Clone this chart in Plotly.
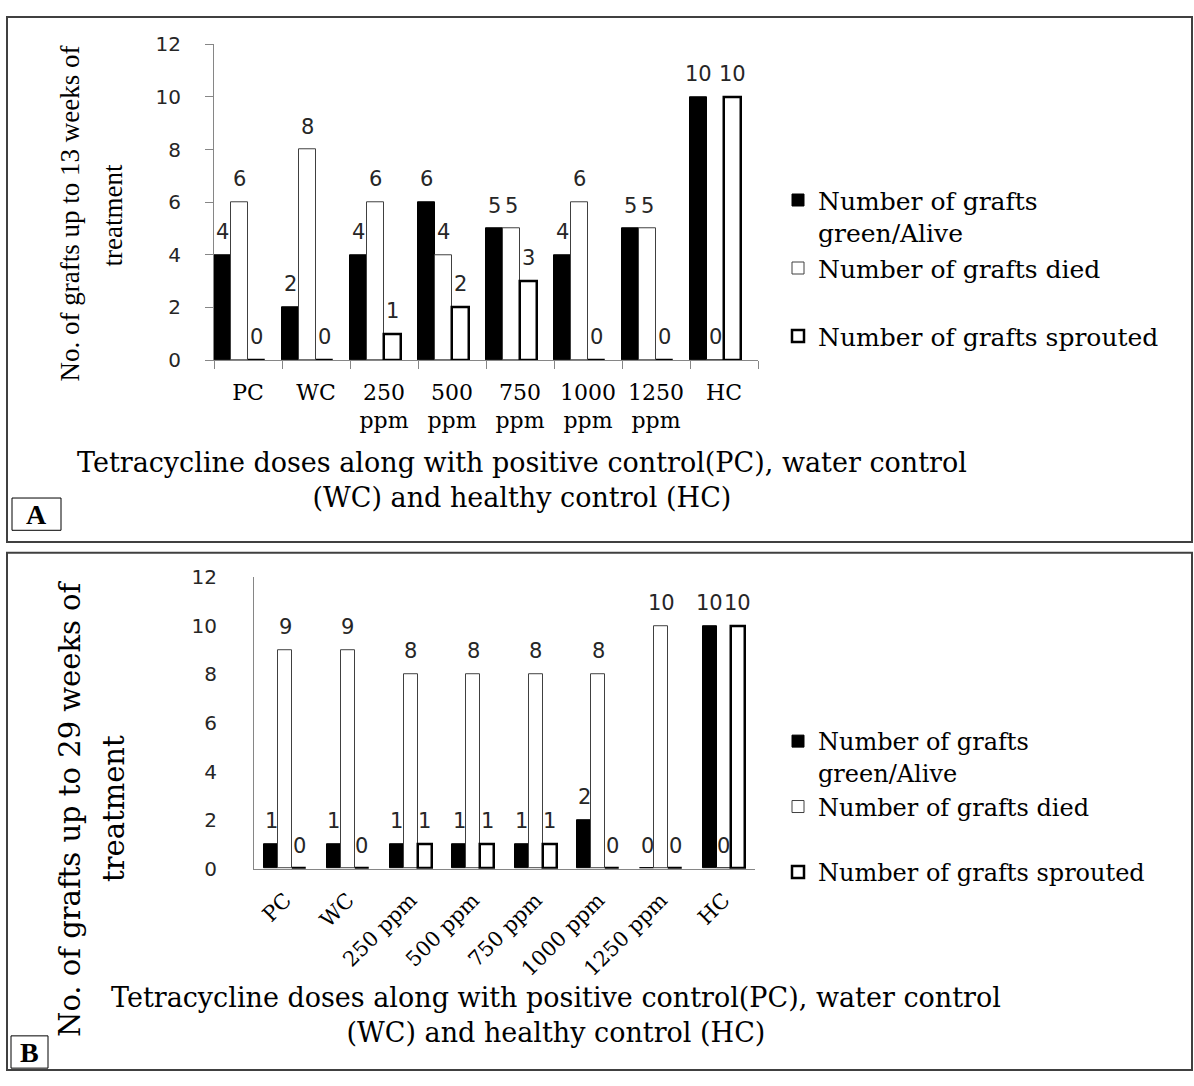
import plotly.graph_objects as go

W, H = 1194, 1086

# ---------------- data ----------------
categories_a = ["PC", "WC", "250<br>ppm", "500<br>ppm", "750<br>ppm", "1000<br>ppm", "1250<br>ppm", "HC"]
categories_b = ["PC", "WC", "250 ppm", "500 ppm", "750 ppm", "1000 ppm", "1250 ppm", "HC"]
series_names = ["Number of grafts<br>green/Alive", "Number of grafts died<br> ", "Number of grafts sprouted"]

alive_13 = [4, 2, 4, 6, 5, 4, 5, 10]
died_13 = [6, 8, 6, 4, 5, 6, 5, 0]
sprouted_13 = [0, 0, 1, 2, 3, 0, 0, 10]

alive_29 = [1, 1, 1, 1, 1, 2, 0, 10]
died_29 = [9, 9, 8, 8, 8, 8, 10, 0]
sprouted_29 = [0, 0, 1, 1, 1, 0, 0, 10]

y_ticks = [0, 2, 4, 6, 8, 10, 12]

ytitle_a = ["No. of grafts up to 13 weeks of", "treatment"]
ytitle_b = ["No. of grafts up to 29 weeks of", "treatment"]
xtitle = ["Tetracycline doses along with positive control(PC), water control",
          "(WC) and healthy control (HC)"]

# ---------------- styles ----------------
SANS = "DejaVu Sans"
SERIF_W = "DejaVu Serif"
SERIF = "Liberation Serif"
AXIS_GRAY = "#868686"
TXT = "#262626"

bar_styles = [
    dict(color="black", line=dict(color="black", width=1)),
    dict(color="white", line=dict(color="#404040", width=1)),
    dict(color="white", line=dict(color="black", width=2.5)),
]
BAR_W_A, BAR_OFF_A = 0.25, [-0.5, -0.25, 0.0]
BAR_W_B, BAR_OFF_B = 0.223, [-0.3345, -0.1115, 0.1115]


def px(x):
    return x / W


def py(y):
    return 1 - y / H


fig = go.Figure()
annotations = []

panels = [
    ("x", "y", "legend", categories_a, [alive_13, died_13, sprouted_13], BAR_W_A, BAR_OFF_A),
    ("x2", "y2", "legend2", categories_b, [alive_29, died_29, sprouted_29], BAR_W_B, BAR_OFF_B),
]

for xa, ya, lg, cats, series, bw, boffs in panels:
    for s, vals in enumerate(series):
        fig.add_trace(go.Bar(
            x=cats, y=vals, name=series_names[s], xaxis=xa, yaxis=ya,
            width=bw, offset=boffs[s], marker=bar_styles[s], legend=lg,
            hoverinfo="x+y+name",
        ))
        for i, v in enumerate(vals):
            annotations.append(dict(
                x=i + boffs[s] + bw / 2, y=v, xref=xa, yref=ya, text=str(v),
                showarrow=False, yanchor="bottom", xanchor="center", yshift=9,
                font=dict(family=SANS, size=21, color=TXT),
            ))


def label(x, y, text, family, size, angle=0):
    return dict(x=px(x), y=py(y), xref="paper", yref="paper", text=text, textangle=angle,
                xanchor="center", yanchor="middle", showarrow=False,
                font=dict(family=family, size=size, color="black"))


annotations += [
    label(70, 206, ytitle_a[0], SERIF, 27, -90),
    label(113, 208, ytitle_a[1], SERIF, 27, -90),
    label(70, 815, ytitle_b[0], SERIF_W, 29, -90),
    label(114, 815, ytitle_b[1], SERIF_W, 29, -90),
    label(522, 479, "<br>".join(xtitle), SERIF_W, 27),
    label(556, 1026, "<br>".join(xtitle), SERIF_W, 27),
    label(36.5, 514, "<b>A</b>", SERIF, 28),
    label(29.5, 1064, "<b>B</b>", SERIF, 28),
]

shapes = [
    dict(type="rect", xref="paper", yref="paper", x0=px(7), x1=px(1192), y0=py(5), y1=py(542),
         line=dict(color="#404040", width=2)),
    dict(type="rect", xref="paper", yref="paper", x0=px(7), x1=px(1192), y0=py(553), y1=py(1082),
         line=dict(color="#404040", width=2)),
    dict(type="rect", xref="paper", yref="paper", x0=px(12), x1=px(61), y0=py(497), y1=py(530),
         line=dict(color="black", width=1)),
    dict(type="rect", xref="paper", yref="paper", x0=px(11), x1=px(48), y0=py(1047), y1=py(1080),
         line=dict(color="black", width=1)),
]

common_axis = dict(showgrid=False, zeroline=False, showline=True, linecolor=AXIS_GRAY, linewidth=1)

fig.update_layout(
    width=W, height=H, margin=dict(l=0, r=0, t=0, b=0),
    paper_bgcolor="white", plot_bgcolor="white",
    barmode="overlay", bargap=0,
    annotations=annotations, shapes=shapes,
    xaxis=dict(domain=[px(214), px(758)], anchor="y", type="category", tickson="boundaries",
               ticks="outside", ticklen=8, tickcolor=AXIS_GRAY, range=[-0.5, 7.5],
               tickfont=dict(family=SERIF_W, size=22, color="black"), ticklabelstandoff=12,
               **common_axis),
    yaxis=dict(domain=[py(356), py(33)], anchor="x", range=[0, 12], tickvals=y_ticks,
               ticks="outside", ticklen=8, tickcolor=AXIS_GRAY, ticklabelstandoff=20,
               tickfont=dict(family=SANS, size=20, color=TXT), **common_axis),
    xaxis2=dict(domain=[px(254), px(755)], anchor="y2", type="category", ticks="",
                range=[-0.5, 7.5], tickangle=-45,
                tickfont=dict(family=SERIF_W, size=21, color="black"), ticklabelstandoff=10,
                **common_axis),
    yaxis2=dict(domain=[py(876), py(578)], anchor="x2", range=[0, 12], tickvals=y_ticks,
                ticks="", ticklabelstandoff=32,
                tickfont=dict(family=SANS, size=20, color=TXT), **common_axis),
    legend=dict(x=px(778), y=py(169), xanchor="left", yanchor="top", valign="top",
                font=dict(family=SERIF_W, size=25, color="black"), bgcolor="rgba(0,0,0,0)",
                tracegroupgap=0),
    legend2=dict(x=px(778), y=py(723), xanchor="left", yanchor="top", valign="top",
                 font=dict(family=SERIF_W, size=24, color="black"), bgcolor="rgba(0,0,0,0)",
                 tracegroupgap=0),
)

fig.write_html(
    "out.html",
    config={"displayModeBar": False},
    post_script=("var d=document.getElementById('{plot_id}');"
                 "d.style.position='fixed';d.style.top='0px';d.style.left='0px';"
                 "document.body.style.margin='0px';document.body.style.padding='0px';"
                 "document.documentElement.style.overflow='hidden';"),
)
